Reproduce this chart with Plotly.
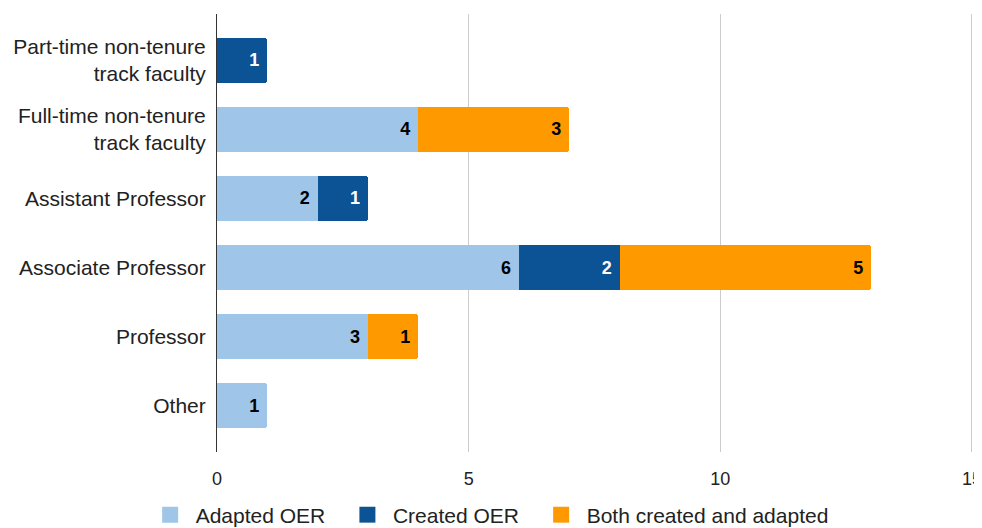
import plotly.graph_objects as go

categories = [
    "Part-time non-tenure<br>track faculty",
    "Full-time non-tenure<br>track faculty",
    "Assistant Professor",
    "Associate Professor",
    "Professor",
    "Other",
]

adapted = [0, 4, 2, 6, 3, 1]
created = [1, 0, 1, 2, 0, 0]
both = [0, 3, 0, 5, 1, 0]

series = [
    ("Adapted OER", adapted, "#9fc5e8", "#000000"),
    ("Created OER", created, "#0b5394", "#ffffff"),
    ("Both created and adapted", both, "#ff9900", "#000000"),
]

FONT = "Liberation Sans, Arial, sans-serif"


def labels(values):
    # trailing nbsp keeps the number off the end of the segment
    return [f"<b>{v}</b>\u00a0" if v else "" for v in values]


fig = go.Figure()

for name, values, color, text_color in series:
    fig.add_trace(
        go.Bar(
            y=categories,
            x=values,
            name=name,
            orientation="h",
            marker=dict(color=color, line=dict(width=0)),
            text=labels(values),
            textposition="inside",
            insidetextanchor="end",
            textangle=0,
            textfont=dict(color=text_color, size=18, family=FONT),
            width=0.65,
            showlegend=False,
        )
    )

# legend-only entries, to get bigger square swatches than bars give
for i, (name, values, color, text_color) in enumerate(series):
    pad = "\u00a0\u00a0" if i < len(series) - 1 else ""
    fig.add_trace(
        go.Scatter(
            x=[None],
            y=[None],
            mode="markers",
            name=name + pad,
            marker=dict(symbol="square", size=16, color=color),
            hoverinfo="skip",
        )
    )

# page body adds an 8px offset, so the figure is 8px smaller each way
fig.update_layout(
    barmode="stack",
    barcornerradius=3,
    width=974,
    height=520,
    margin=dict(l=209, r=9, t=6, b=76, autoexpand=False),
    plot_bgcolor="white",
    paper_bgcolor="white",
    font=dict(family=FONT, size=21, color="#222222"),
    showlegend=True,
    legend=dict(
        orientation="h",
        xref="container",
        yref="container",
        x=0.494,
        xanchor="center",
        y=0.025,
        yanchor="middle",
        font=dict(size=21, color="#222222"),
        traceorder="normal",
        itemsizing="trace",
        itemwidth=41,
    ),
    uniformtext=dict(minsize=10, mode="show"),
)

fig.update_xaxes(
    range=[0, 15.02],
    tickvals=[0, 5, 10, 15],
    showgrid=True,
    gridcolor="#cccccc",
    gridwidth=1,
    zeroline=False,
    tickfont=dict(size=18),
    ticks="",
    ticklabelstandoff=14,
    ticklabeloverflow="allow",
    automargin=False,
)

fig.update_yaxes(
    categoryorder="array",
    categoryarray=categories,
    range=[5.67, -0.67],
    showline=True,
    linecolor="#333333",
    linewidth=1,
    ticks="",
    ticklabelstandoff=6,
    automargin=False,
)

fig.write_html("out.html")
